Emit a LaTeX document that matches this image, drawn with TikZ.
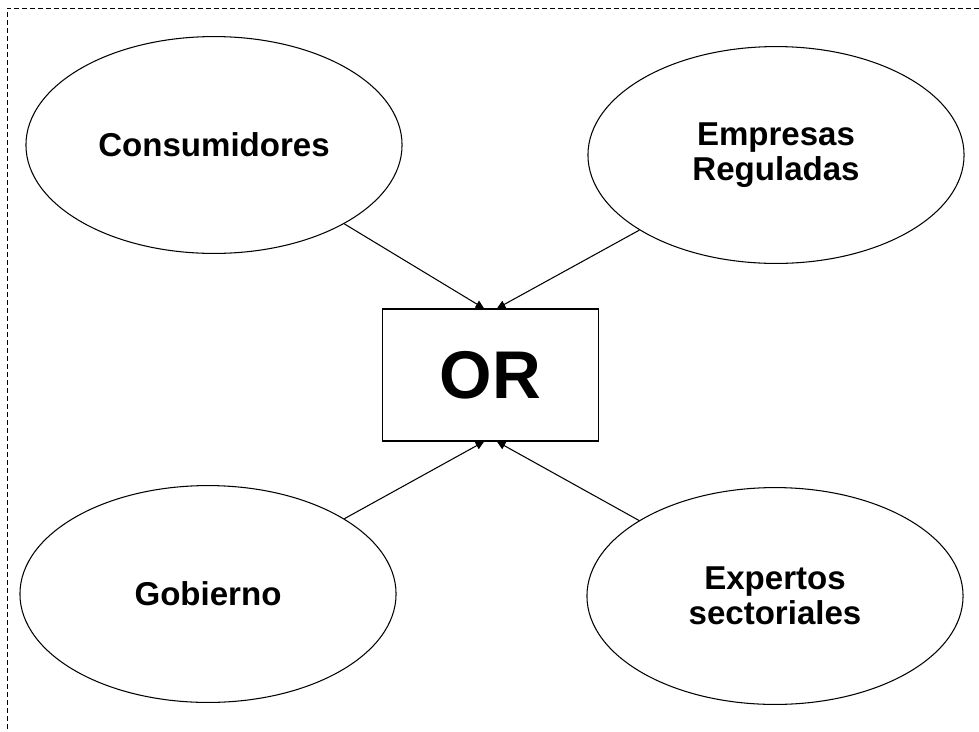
\documentclass[tikz,border=0pt]{standalone}
\usepackage{fontspec}
\setmainfont{Liberation Sans}
\usetikzlibrary{arrows.meta,shapes.geometric}
\tikzset{
  actor/.style={draw, ellipse, line width=0.75pt, inner sep=0pt,
    minimum width=9.4cm, minimum height=5.42cm, align=center,
    font=\fontsize{23.5}{24.5}\selectfont\bfseries},
  orbox/.style={draw, rectangle, line width=0.75pt, inner sep=0pt,
    minimum width=5.42cm, minimum height=3.3cm,
    font=\fontsize{48}{48}\selectfont\bfseries},
  feed/.style={line width=0.75pt, -{Triangle[length=0.21cm,width=0.2cm]}},
  frame/.style={line width=0.6pt, dash pattern=on 0.12cm off 0.08cm}
}
\begin{document}
\begin{tikzpicture}[x=0.025cm,y=-0.025cm]
\useasboundingbox (0,0) rectangle (979,731);
% frame
\draw[frame] (979,8) -- (7,8) -- (7,731);
% centre
\node[orbox] (or) at (490.5,375) {OR};
% actors
\node[actor] (cons) at (214,145) {Consumidores};
\node[actor] (emp) at (776,155) {Empresas\\Reguladas};
\node[actor] (gob) at (208,594) {Gobierno};
\node[actor] (exp) at (775,596) {Expertos\\sectoriales};
% arrows
\draw[feed] (cons) -- ([xshift=-0.16cm]or.north);
\draw[feed] (emp) -- ([xshift=0.16cm]or.north);
\draw[feed] (gob) -- ([xshift=-0.16cm]or.south);
\draw[feed] (exp) -- ([xshift=0.16cm]or.south);
\end{tikzpicture}
\end{document}
